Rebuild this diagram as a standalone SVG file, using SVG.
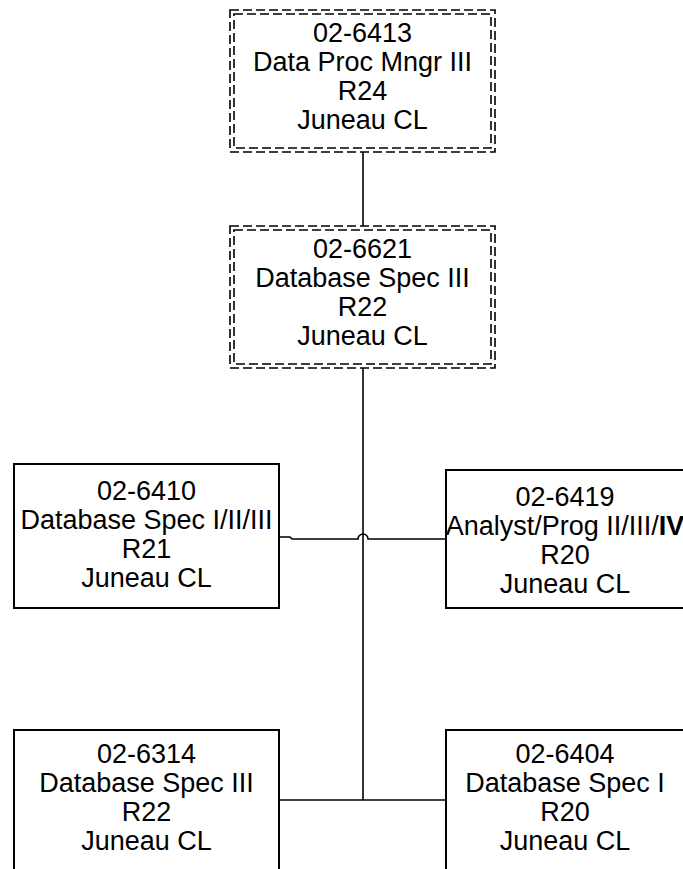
<svg xmlns="http://www.w3.org/2000/svg" width="683" height="869" viewBox="0 0 683 869">
<style>
.bg{fill:#fff}
.box{fill:#fff;stroke:#000;stroke-width:2}
.dash{fill:none;stroke:#000;stroke-width:1.6;stroke-dasharray:9,4}
.dashbg{fill:#fff;stroke:none}
.t{font-family:"Liberation Sans",Arial,sans-serif;font-size:27px;fill:#000;text-anchor:middle}
.conn{fill:none;stroke:#000;stroke-width:1.6}
</style>
<rect class="bg" x="0" y="0" width="683" height="869"/>
<g id="connectors">
<line class="conn" x1="363" y1="152" x2="363" y2="226"/>
<line class="conn" x1="363" y1="368" x2="363" y2="800"/>
<path class="conn" d="M279,537 H290 L292,539 H358 A5,5 0 0 1 368,539 H446"/>
<path class="conn" d="M279,800 H446"/>
</g>
<g id="n6413">
<rect class="dashbg" x="230" y="10" width="265" height="142"/>
<rect class="dash" x="230" y="10" width="265" height="142"/>
<rect class="dash" x="234" y="14" width="257" height="134"/>
<text class="t" x="362.5" y="42">02-6413</text>
<text class="t" x="362.5" y="71">Data Proc Mngr III</text>
<text class="t" x="362.5" y="100">R24</text>
<text class="t" x="362.5" y="129">Juneau CL</text>
</g>
<g id="n6621">
<rect class="dashbg" x="230" y="226" width="265" height="142"/>
<rect class="dash" x="230" y="226" width="265" height="142"/>
<rect class="dash" x="234" y="230" width="257" height="134"/>
<text class="t" x="362.5" y="258">02-6621</text>
<text class="t" x="362.5" y="287">Database Spec III</text>
<text class="t" x="362.5" y="316">R22</text>
<text class="t" x="362.5" y="345">Juneau CL</text>
</g>
<g id="n6410">
<rect class="box" x="14" y="464" width="265" height="144"/>
<text class="t" x="146.5" y="500">02-6410</text>
<text class="t" x="146.5" y="529">Database Spec I/II/III</text>
<text class="t" x="146.5" y="558">R21</text>
<text class="t" x="146.5" y="587">Juneau CL</text>
</g>
<g id="n6419">
<rect class="box" x="446" y="470" width="265" height="138"/>
<text class="t" x="565" y="506">02-6419</text>
<text class="t" x="565" y="535">Analyst/Prog II/III/<tspan font-weight="bold">IV</tspan></text>
<text class="t" x="565" y="564">R20</text>
<text class="t" x="565" y="593">Juneau CL</text>
</g>
<g id="n6314">
<rect class="box" x="14" y="730" width="265" height="150"/>
<text class="t" x="146.5" y="763">02-6314</text>
<text class="t" x="146.5" y="792">Database Spec III</text>
<text class="t" x="146.5" y="821">R22</text>
<text class="t" x="146.5" y="850">Juneau CL</text>
</g>
<g id="n6404">
<rect class="box" x="446" y="730" width="265" height="150"/>
<text class="t" x="565" y="763">02-6404</text>
<text class="t" x="565" y="792">Database Spec I</text>
<text class="t" x="565" y="821">R20</text>
<text class="t" x="565" y="850">Juneau CL</text>
</g>
</svg>
